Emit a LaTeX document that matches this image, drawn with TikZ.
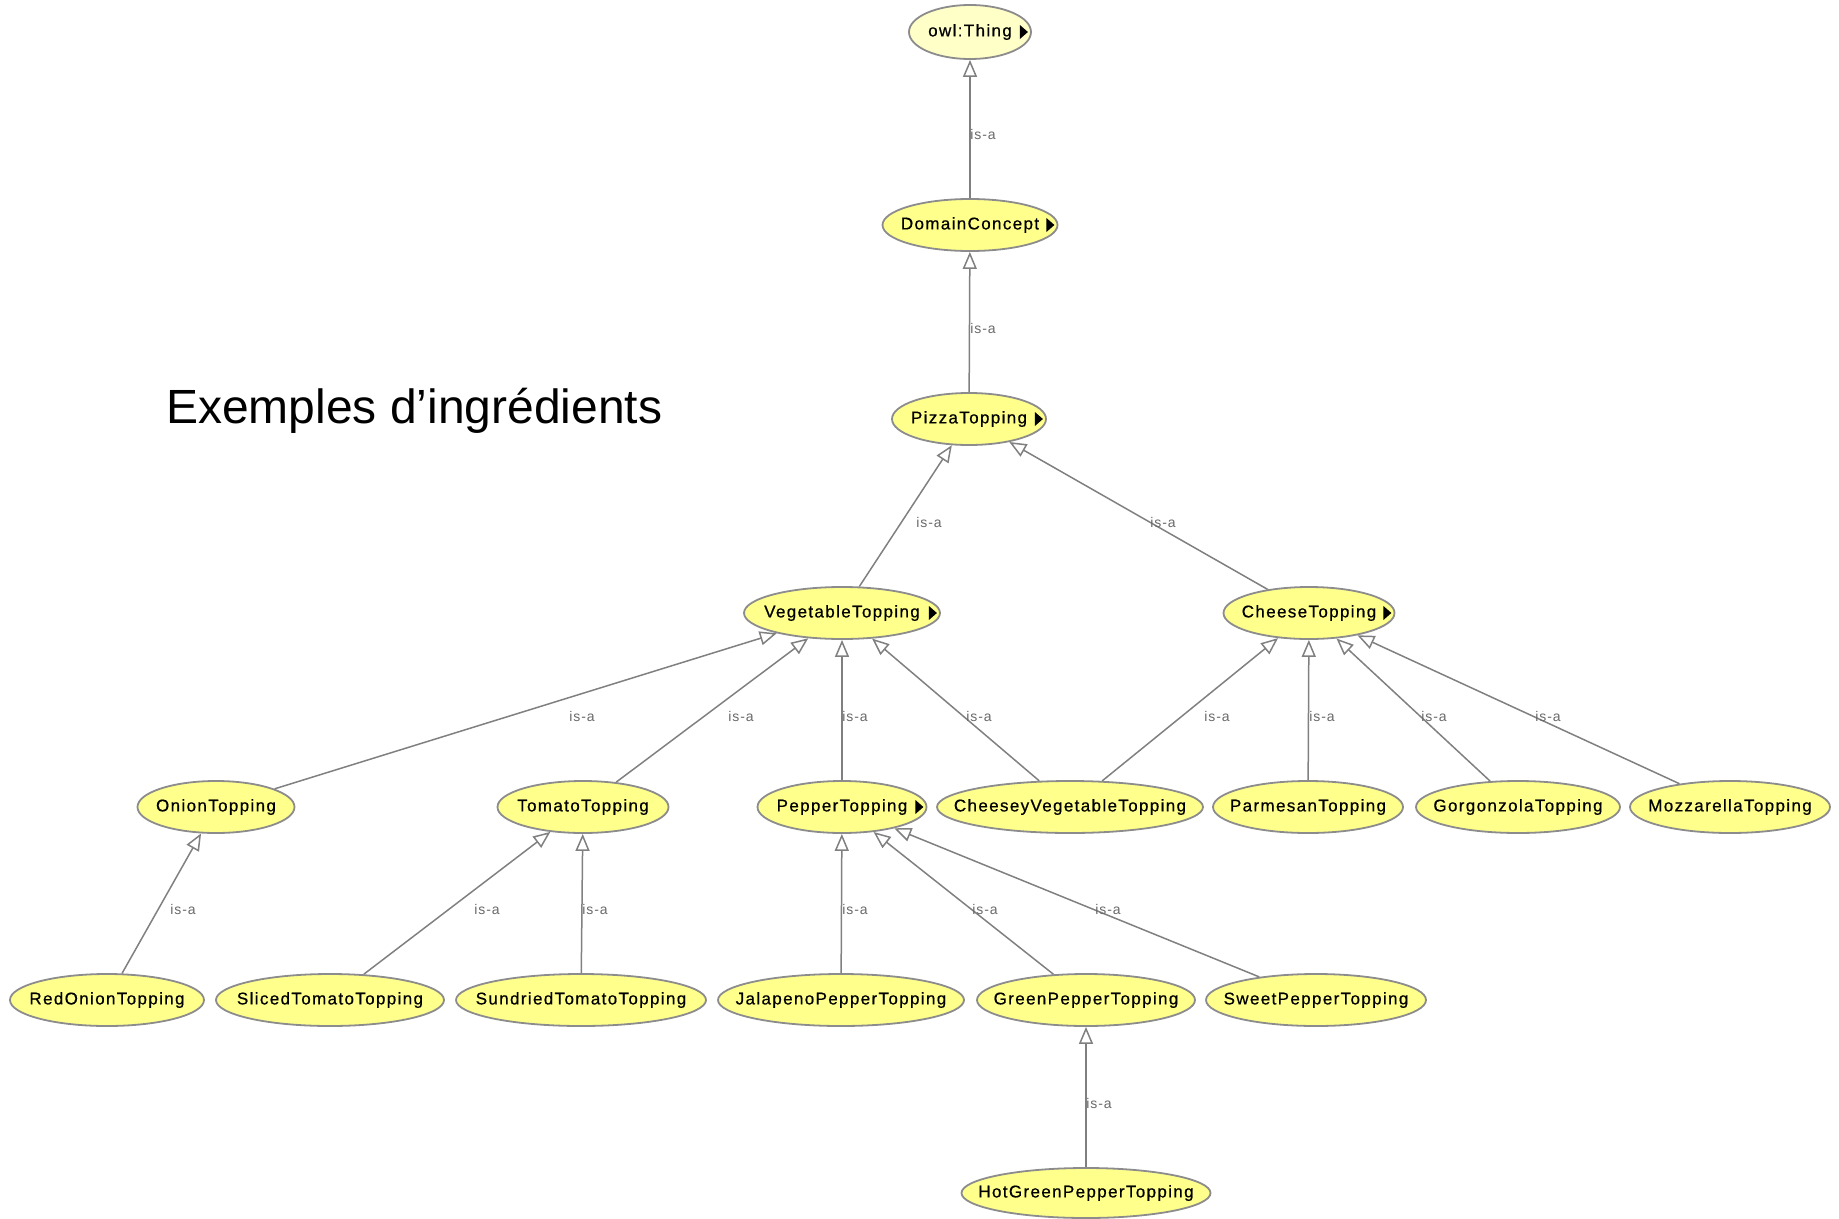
\documentclass[tikz,border=0pt]{standalone}
\usepackage{fontspec}
\setmainfont{Liberation Sans}
\newfontfamily\nodefont[LetterSpace=8,FakeBold=0.6]{Liberation Sans}
\newfontfamily\lblfont[LetterSpace=6]{Liberation Sans}
\usetikzlibrary{shapes.geometric,arrows.meta}
\definecolor{nodefill}{RGB}{255,255,140}
\definecolor{thingfill}{RGB}{255,255,200}
\definecolor{edgegrey}{RGB}{128,128,128}
\definecolor{bordergrey}{RGB}{140,140,140}
\definecolor{labelgrey}{RGB}{105,105,105}

% class label: zero-width box, so the ellipse takes only its given size
\newcommand{\clsname}[1]{\makebox[0pt]{\raisebox{-1.5pt}{#1}}}

\begin{document}
\begin{tikzpicture}[x=1pt,y=-1pt,
  cls/.style={ellipse, draw=bordergrey, line width=1.8pt, fill=nodefill,
    minimum height=52pt, inner sep=0pt, text=black,
    font=\nodefont\fontsize{17}{20}\selectfont},
  isa/.style={draw=edgegrey, line width=1.5pt,
    -{Triangle[open, length=17pt, width=14pt, fill=white]}},
  lbl/.style={font=\lblfont\fontsize{14}{16}\selectfont, text=labelgrey, inner sep=0pt},
]
\useasboundingbox (0,0) rectangle (1839,1218);

% title
\node[anchor=base west, inner sep=0pt, font=\fontsize{48}{57}\selectfont] (title) at (166,423) {Exemples d’ingrédients};

% class hierarchy
\node[cls, fill=thingfill, minimum width=122pt, minimum height=54pt] (thing) at (970,32) {\clsname{owl:Thing}};
\node[cls, minimum width=175pt] (domain) at (970,225) {\clsname{DomainConcept}};
\node[cls, minimum width=154pt] (pizza) at (969,419) {\clsname{PizzaTopping}};
\node[cls, minimum width=196pt] (veg) at (842,613) {\clsname{VegetableTopping}};
\node[cls, minimum width=171pt] (cheese) at (1309,613) {\clsname{CheeseTopping}};

\node[cls, minimum width=157pt] (onion) at (216,807) {\clsname{OnionTopping}};
\node[cls, minimum width=171pt] (tomato) at (583,807) {\clsname{TomatoTopping}};
\node[cls, minimum width=169pt] (pepper) at (842,807) {\clsname{PepperTopping}};
\node[cls, minimum width=266pt] (cveg) at (1070,807) {\clsname{CheeseyVegetableTopping}};
\node[cls, minimum width=190pt] (parm) at (1308,807) {\clsname{ParmesanTopping}};
\node[cls, minimum width=204pt] (gorg) at (1518,807) {\clsname{GorgonzolaTopping}};
\node[cls, minimum width=200pt] (mozz) at (1730,807) {\clsname{MozzarellaTopping}};

\node[cls, minimum width=194pt] (redon) at (107,1000) {\clsname{RedOnionTopping}};
\node[cls, minimum width=228pt] (sliced) at (330,1000) {\clsname{SlicedTomatoTopping}};
\node[cls, minimum width=250pt] (sund) at (581,1000) {\clsname{SundriedTomatoTopping}};
\node[cls, minimum width=246pt] (jal) at (841,1000) {\clsname{JalapenoPepperTopping}};
\node[cls, minimum width=218pt] (green) at (1086,1000) {\clsname{GreenPepperTopping}};
\node[cls, minimum width=220pt] (sweet) at (1316,1000) {\clsname{SweetPepperTopping}};

\node[cls, minimum width=249pt, minimum height=50pt] (hot) at (1086,1193) {\clsname{HotGreenPepperTopping}};

% markers for classes with collapsed subclasses
\foreach \n in {thing,domain,pizza,veg,cheese,pepper}
  \fill[black] (\n.east) ++(-4,0) -- ++(-8,-7) -- ++(0,14) -- cycle;

% subclass edges
\draw[isa] (domain) -- (thing);
\draw[isa] (pizza) -- (domain);
\draw[isa] (veg) -- (pizza);
\draw[isa] (cheese) -- (pizza);
\draw[isa] (onion) -- (veg);
\draw[isa] (tomato) -- (veg);
\draw[isa] (pepper) -- (veg);
\draw[isa] (cveg) -- (veg);
\draw[isa] (cveg) -- (cheese);
\draw[isa] (parm) -- (cheese);
\draw[isa] (gorg) -- (cheese);
\draw[isa] (mozz) -- (cheese);
\draw[isa] (redon) -- (onion);
\draw[isa] (sliced) -- (tomato);
\draw[isa] (sund) -- (tomato);
\draw[isa] (jal) -- (pepper);
\draw[isa] (green) -- (pepper);
\draw[isa] (sweet) -- (pepper);
\draw[isa] (hot) -- (green);

% edge labels
\node[lbl] (l1) at (983,134) {is-a};
\node[lbl] (l2) at (983,328) {is-a};
\node[lbl] (l3) at (929,522) {is-a};
\node[lbl] (l4) at (1163,522) {is-a};
\node[lbl] (l5) at (582,716) {is-a};
\node[lbl] (l6) at (741,716) {is-a};
\node[lbl] (l7) at (855,716) {is-a};
\node[lbl] (l8) at (979,716) {is-a};
\node[lbl] (l9) at (1217,716) {is-a};
\node[lbl] (l10) at (1322,716) {is-a};
\node[lbl] (l11) at (1434,716) {is-a};
\node[lbl] (l12) at (1548,716) {is-a};
\node[lbl] (l13) at (183,909) {is-a};
\node[lbl] (l14) at (487,909) {is-a};
\node[lbl] (l15) at (595,909) {is-a};
\node[lbl] (l16) at (855,909) {is-a};
\node[lbl] (l17) at (985,909) {is-a};
\node[lbl] (l18) at (1108,909) {is-a};
\node[lbl] (l19) at (1099,1103) {is-a};
\end{tikzpicture}
\end{document}
